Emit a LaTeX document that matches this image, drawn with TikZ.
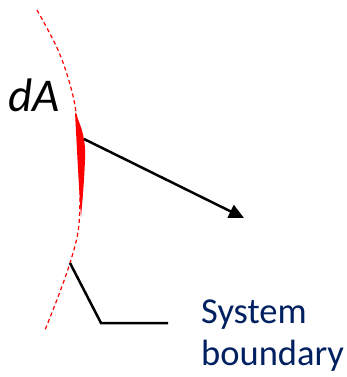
\documentclass[tikz,border=0pt]{standalone}
\usepackage{fontspec}
\setmainfont{Carlito}
\usetikzlibrary{arrows.meta}
\definecolor{navy}{RGB}{0,32,96}
\begin{document}
\begin{tikzpicture}[x=1pt,y=-1pt,
  bnd/.style={red, line width=1.2pt, dash pattern=on 4pt off 3pt},
  wedge/.style={fill=red, draw=none},
  vec/.style={line width=2.5pt, -{Triangle[length=15pt,width=14pt]}},
  lead/.style={line width=2.5pt, line join=miter},
  lbl/.style={navy, inner sep=0pt, anchor=base west, font=\fontsize{36.5}{42}\selectfont}]
\useasboundingbox (0,0) rectangle (347,377);
% system boundary
\draw[bnd] plot[smooth, tension=0.6] coordinates {(37,10) (58,50) (71,88) (77,120) (80,165) (80,200) (78,232) (70,263) (58,297) (45,330)};
% dA patch
\fill[wedge] (75,112) .. controls (82,128) and (86,140) .. (85,160) .. controls (84,185) and (82,205) .. (81,217) .. controls (79,190) and (77,150) .. (75,112) -- cycle;
\node[inner sep=0pt, anchor=base west, font=\fontsize{47}{50}\selectfont\itshape] (dA) at (8,112) {dA};
% vector
\coordinate (vs) at (84,139);
\coordinate (ve) at (244,218);
\draw[vec] (vs) -- (ve);
% leader
\coordinate (l0) at (70,263);
\coordinate (l1) at (101,323);
\coordinate (l2) at (168,323);
\draw[lead] (l0) -- (l1) -- (l2);
\node[lbl] (sys) at (201,323) {System};
\node[lbl] (bnd) at (201,365) {boundary};
\end{tikzpicture}
\end{document}
